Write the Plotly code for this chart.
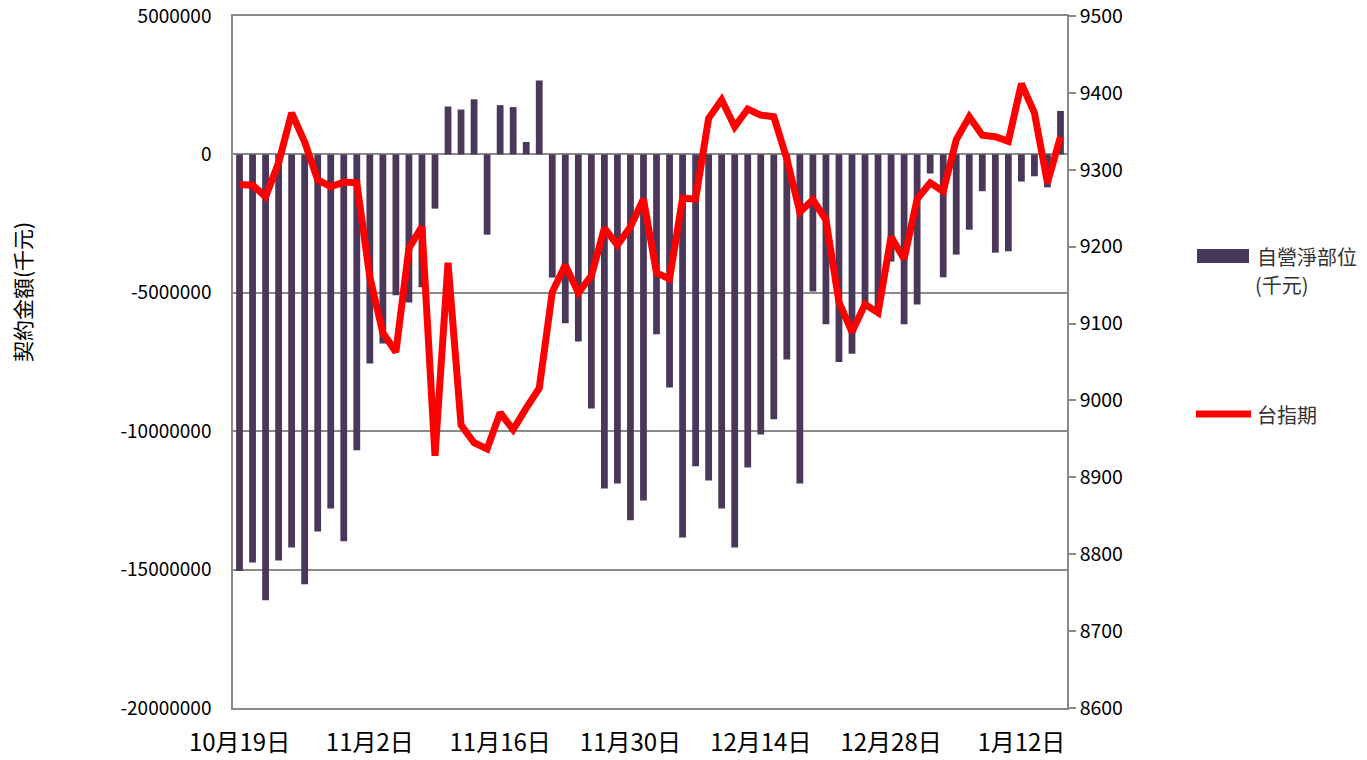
import plotly.graph_objects as go

dates = [
    "10月19日", "10月20日", "10月21日", "10月22日", "10月23日",
    "10月26日", "10月27日", "10月28日", "10月29日", "10月30日",
    "11月2日", "11月3日", "11月4日", "11月5日", "11月6日",
    "11月9日", "11月10日", "11月11日", "11月12日", "11月13日",
    "11月16日", "11月17日", "11月18日", "11月19日", "11月20日",
    "11月23日", "11月24日", "11月25日", "11月26日", "11月27日",
    "11月30日", "12月1日", "12月2日", "12月3日", "12月4日",
    "12月7日", "12月8日", "12月9日", "12月10日", "12月11日",
    "12月14日", "12月15日", "12月16日", "12月17日", "12月18日",
    "12月21日", "12月22日", "12月23日", "12月24日", "12月25日",
    "12月28日", "12月29日", "12月30日", "12月31日",
    "1月4日", "1月5日", "1月6日", "1月7日", "1月8日",
    "1月11日", "1月12日", "1月13日", "1月14日", "1月15日",
]

net_position = [
    -15050000, -14740000, -16110000, -14670000, -14200000, -15530000, -13620000, -12790000, -13980000, -10690000,
    -7550000, -6830000, -5090000, -5350000, -4800000, -1960000, 1730000, 1620000, 1990000, -2900000,
    1780000, 1710000, 450000, 2670000, -4450000, -6100000, -6760000, -9180000, -12070000, -11890000,
    -13220000, -12500000, -6500000, -8420000, -13840000, -11270000, -11780000, -12790000, -14200000, -11310000,
    -10120000, -9570000, -7410000, -11890000, -4950000, -6140000, -7500000, -7200000, -5400000, -5600000,
    -3870000, -6140000, -5420000, -690000, -4440000, -3620000, -2720000, -1330000, -3550000, -3500000,
    -980000, -790000, -1190000, 1570000,
]

futures = [
    9281, 9280, 9265, 9309, 9374, 9336, 9287, 9278, 9284, 9283,
    9160, 9088, 9063, 9198, 9226, 8928, 9179, 8968, 8945, 8937,
    8984, 8962, 8990, 9016, 9141, 9176, 9140, 9162, 9224, 9202,
    9226, 9262, 9166, 9158, 9263, 9262, 9367, 9391, 9356, 9379,
    9371, 9369, 9314, 9245, 9261, 9235, 9128, 9089, 9125, 9114,
    9213, 9184, 9262, 9283, 9272, 9339, 9369, 9345, 9343, 9337,
    9412, 9374, 9283, 9343,
]

left_ticks = [5000000, 0, -5000000, -10000000, -15000000, -20000000]
left_labels = ["5000000", "0", "-5000000", "-10000000", "-15000000", "-20000000"]
x_label_idx = [0, 10, 20, 30, 40, 50, 60]

BAR_COLOR = "#4b375a"
LINE_COLOR = "#ff0000"
GRID = "#8a8a8a"
FONT = "Noto Sans CJK TC"

# plot area at x 233..1067, y 16..708 of the 1367x760 page (body margin removed)
L, R, T, B = 233, 300, 16, 52
W, H = 1367, 760

fig = go.Figure()
fig.add_trace(go.Bar(x=dates, y=net_position, name="自營淨部位(千元)",
                     marker=dict(color=BAR_COLOR, line=dict(width=0)), yaxis="y"))
fig.add_trace(go.Scatter(x=dates, y=futures, name="台指期", mode="lines",
                         line=dict(color=LINE_COLOR, width=7), yaxis="y2"))

fig.update_layout(
    width=W, height=H,
    margin=dict(l=L, r=R, t=T, b=B),
    paper_bgcolor="white", plot_bgcolor="white",
    showlegend=False,
    bargap=0.48,
    font=dict(family=FONT, color="#000000"),
    xaxis=dict(
        type="category", automargin=False, ticklabeloverflow="allow",
        tickvals=[dates[i] for i in x_label_idx],
        ticktext=[dates[i] for i in x_label_idx],
        tickangle=0,
        tickfont=dict(size=24, family=FONT, color="#000"),
        ticks="outside", ticklen=12, tickcolor="rgba(0,0,0,0)",
        showgrid=False, showline=True, linecolor=GRID, linewidth=1.5, mirror=True,
        range=[-0.5, len(dates) - 0.5],
    ),
    yaxis=dict(
        range=[-20000000, 5000000], automargin=False, ticklabeloverflow="allow",
        tickvals=left_ticks, ticktext=left_labels,
        tickfont=dict(size=19, family=FONT, color="#000"),
        ticks="outside", ticklen=16, tickcolor="rgba(0,0,0,0)",
        showgrid=True, gridcolor=GRID, gridwidth=1.5,
        zeroline=True, zerolinecolor=GRID, zerolinewidth=1.5,
        showline=True, linecolor=GRID, linewidth=1.5,
    ),
    yaxis2=dict(
        range=[8600, 9500], dtick=100, overlaying="y", side="right",
        automargin=False, ticklabeloverflow="allow",
        tickfont=dict(size=19.5, family=FONT, color="#000"),
        ticks="outside", ticklen=7, tickcolor=GRID, tickwidth=1.5,
        showgrid=False, zeroline=False,
        showline=True, linecolor=GRID, linewidth=1.5,
    ),
)

PW, PH = W - L - R, H - T - B


def px_x(p):
    return (p - 233) / PW


def px_y(p):
    return (708 - p) / PH


# y-axis title
fig.add_annotation(text="契約金額(千元)", xref="paper", yref="paper",
                   x=px_x(22), y=px_y(292), textangle=-90,
                   showarrow=False, font=dict(size=21, family=FONT, color="#000"),
                   xanchor="center", yanchor="middle")

# custom legend
fig.add_shape(type="rect", xref="paper", yref="paper",
              x0=px_x(1197), x1=px_x(1249), y0=px_y(263), y1=px_y(249),
              fillcolor=BAR_COLOR, line=dict(width=0))
fig.add_annotation(text="自營淨部位", xref="paper", yref="paper", x=px_x(1255), y=px_y(256),
                   xanchor="left", yanchor="middle", showarrow=False,
                   font=dict(size=20, family=FONT, color="#333"))
fig.add_annotation(text="(千元)", xref="paper", yref="paper", x=px_x(1253), y=px_y(284),
                   xanchor="left", yanchor="middle", showarrow=False,
                   font=dict(size=20, family=FONT, color="#333"))
fig.add_shape(type="line", xref="paper", yref="paper",
              x0=px_x(1196), x1=px_x(1251), y0=px_y(414), y1=px_y(414),
              line=dict(color=LINE_COLOR, width=7))
fig.add_annotation(text="台指期", xref="paper", yref="paper", x=px_x(1255), y=px_y(414),
                   xanchor="left", yanchor="middle", showarrow=False,
                   font=dict(size=20, family=FONT, color="#333"))

fig.write_html(
    "out.html",
    config={"displayModeBar": False},
    post_script="document.body.style.margin='0';document.body.style.overflow='hidden';",
)
